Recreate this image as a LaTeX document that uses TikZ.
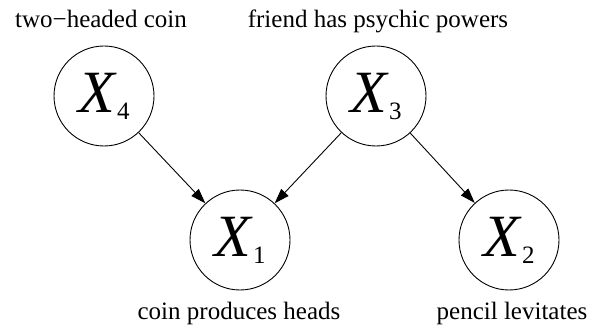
\documentclass[tikz,border=0pt]{standalone}
\usepackage{fontspec}
\newfontfamily\timesf{Liberation Serif}
\usetikzlibrary{arrows.meta}
\newcommand{\varX}[1]{{\fontsize{60}{60}\selectfont\textit{X}}\raisebox{-7pt}{\fontsize{25}{25}\selectfont #1}}
\tikzset{
  var/.style={draw,circle,line width=0.9pt,minimum size=100pt,inner sep=0pt,font=\timesf},
  arc/.style={line width=0.9pt,-{Triangle[length=15pt,width=10pt]}},
  lbl/.style={anchor=base,font=\timesf\fontsize{25}{25}\selectfont}
}

\begin{document}
\begin{tikzpicture}[x=1pt,y=1pt]
      \useasboundingbox (0,0) rectangle (592,335);
      \coordinate (P4) at (104,239);
      \coordinate (P3) at (376,239);
      \coordinate (P1) at (240,95);
      \coordinate (P2) at (509,95);

      \foreach \n in {1,2,3,4}
      {
        \node [var] (x\n) at (P\n) {\varX{\n}};
      }
      % labels
      \node [lbl] (l4) at (101,307) {two−headed coin};
      \node [lbl] (l3) at (378,307) {friend has psychic powers};
      \node [lbl] (l1) at (239,16) {coin produces heads};
      \node [lbl] (l2) at (512,16) {pencil levitates};

      \draw [arc] (x4) -- (x1);
      \draw [arc] (x3) -- (x1);
      \draw [arc] (x3) -- (x2);
    \end{tikzpicture}
\end{document}
